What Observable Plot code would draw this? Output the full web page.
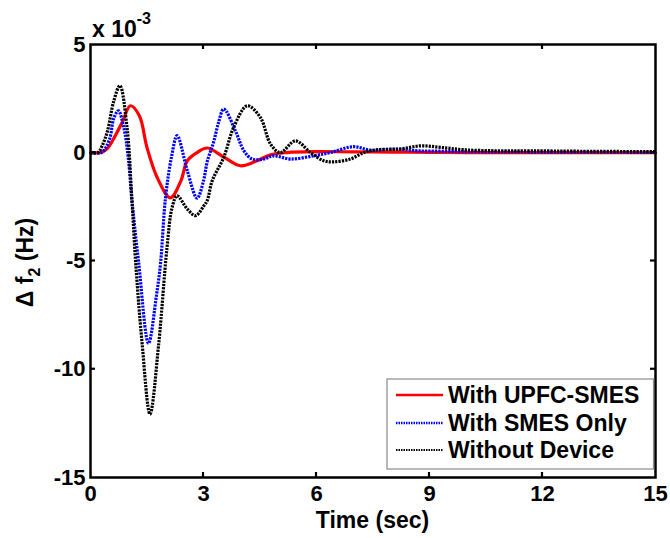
<!DOCTYPE html>
<html>
<head>
<meta charset="utf-8">
<script src="https://cdn.jsdelivr.net/npm/d3@7"></script>
<script src="https://cdn.jsdelivr.net/npm/@observablehq/plot@0.6"></script>
<style>
  html, body { margin: 0; padding: 0; background: white; }
</style>
</head>
<body>
<div id="chart"></div>
<script>
// ---- data (values in units of 1e-3 Hz) ----
const seriesNames = ["With UPFC-SMES", "With SMES Only", "Without Device"];

const redT = [0, 0.3, 0.45, 0.6, 0.84, 1.06, 1.3, 1.5, 1.77, 2.12, 2.4, 2.57, 2.83, 3.1, 3.54, 3.98, 4.42, 4.78, 5.22, 6, 7, 8, 9, 10, 12, 15];
const redV = [0, 0.02, 0.2, 0.6, 1.4, 2.17, 1.7, 0.24, -1.14, -2.08, -1.3, -0.37, 0.01, 0.22, -0.2, -0.6, -0.37, -0.09, 0.01, 0.05, 0.04, 0.03, 0.02, 0.01, 0.01, 0];

const blueT = [0, 0.3, 0.5, 0.62, 0.74, 0.88, 1.0, 1.1, 1.28, 1.54, 1.75, 1.86, 1.99, 2.15, 2.3, 2.57, 2.83, 3.0, 3.1, 3.27, 3.4, 3.54, 3.85, 4.07, 4.29, 4.6, 4.86, 5.31, 5.93, 6.37, 6.98, 7.43, 8.14, 8.67, 9.3, 10, 11, 12, 15];
const blueV = [0, 0.02, 0.6, 1.6, 1.94, 1.2, -0.2, -2.2, -5.1, -8.8, -6.6, -5.1, -2.1, -0.2, 0.79, -0.83, -2.1, -1.3, -0.4, 0.5, 1.4, 2.02, 1.0, 0.1, -0.29, -0.29, -0.14, -0.29, -0.14, 0.01, 0.28, 0.12, 0.17, 0.09, 0.07, 0.05, 0.04, 0.03, 0.02];

const blackT = [0, 0.2, 0.31, 0.45, 0.62, 0.78, 0.97, 1.1, 1.2, 1.37, 1.58, 1.81, 2.03, 2.17, 2.3, 2.57, 2.79, 3.01, 3.1, 3.23, 3.54, 3.8, 4.16, 4.51, 4.78, 5.04, 5.44, 5.84, 6.19, 6.45, 6.9, 7.26, 7.61, 8.2, 8.76, 9.29, 9.9, 10.8, 11.7, 13, 15];
const blackV = [0, 0.02, 0.32, 1.0, 2.4, 3.1, 1.17, -2.2, -5.1, -8.8, -12.07, -8.84, -4.4, -2.5, -1.99, -2.6, -2.9, -2.45, -2.2, -1.3, -0.2, 1.17, 2.17, 1.63, 0.4, 0.01, 0.55, 0.01, -0.37, -0.42, -0.29, 0.01, 0.14, 0.17, 0.32, 0.25, 0.14, 0.09, 0.09, 0.07, 0.05];

const xTicks = [0, 3, 6, 9, 12, 15];
const yTicks = [-15, -10, -5, 0, 5];
const xInnerTicks = [3, 6, 9, 12];
const yInnerTicks = [-10, -5, 0];

const colors = ["#ff0000", "#0000ff", "#000000"];

const toRows = (T, V, s) => T.map((t, i) => ({t, v: V[i], s}));
const red = toRows(redT, redV, seriesNames[0]);
const blue = toRows(blueT, blueV, seriesNames[1]);
const black = toRows(blackT, blackV, seriesNames[2]);

const font = "'Liberation Sans', Arial, sans-serif";

const chart = Plot.plot({
  width: 670,
  height: 538,
  marginLeft: 90,
  marginRight: 15,
  marginTop: 44,
  marginBottom: 61,
  style: {fontFamily: font, fontWeight: "bold", fontSize: "22px", background: "white", color: "black"},
  x: {domain: [0, 15]},
  y: {domain: [-15, 5]},
  marks: [
    Plot.line(red, {x: "t", y: "v", stroke: colors[0], strokeWidth: 3.2, curve: "catmull-rom"}),
    Plot.line(blue, {x: "t", y: "v", stroke: colors[1], strokeWidth: 3.2, strokeDasharray: "2.2,1.1", strokeLinecap: "butt", curve: "catmull-rom"}),
    Plot.line(black, {x: "t", y: "v", stroke: colors[2], strokeWidth: 3.2, strokeDasharray: "2.2,1.1", strokeLinecap: "butt", curve: "catmull-rom"}),
    Plot.axisX({ticks: xTicks, tickSize: 0, tickPadding: 8, label: null, fontSize: 22, fontWeight: "bold", tickFormat: d => String(d)}),
    Plot.axisY({ticks: yTicks, tickSize: 0, tickPadding: 5, label: null, fontSize: 22, fontWeight: "bold", tickFormat: d => String(d)}),
    Plot.frame({stroke: "black", strokeWidth: 2.5})
  ]
});

document.getElementById("chart").appendChild(chart);

const svg = d3.select(chart);
const sx = chart.scale("x");
const sy = chart.scale("y");
const x0 = sx.apply(0), x1 = sx.apply(15);
const yTop = sy.apply(5), yBot = sy.apply(-15);
const tl = 5;

const g = svg.append("g").attr("stroke", "black").attr("stroke-width", 2.2);
for (const t of xInnerTicks) {
  const px = sx.apply(t);
  g.append("line").attr("x1", px).attr("x2", px).attr("y1", yBot).attr("y2", yBot - tl);
  g.append("line").attr("x1", px).attr("x2", px).attr("y1", yTop).attr("y2", yTop + tl);
}
for (const v of yInnerTicks) {
  const py = sy.apply(v);
  g.append("line").attr("x1", x0).attr("x2", x0 + tl).attr("y1", py).attr("y2", py);
  g.append("line").attr("x1", x1).attr("x2", x1 - tl).attr("y1", py).attr("y2", py);
}

// axis labels
svg.append("text")
  .attr("x", (x0 + x1) / 2).attr("y", 528)
  .attr("text-anchor", "middle")
  .style("font-family", font).style("font-size", "23px").style("font-weight", "bold")
  .text("Time (sec)");

const yl = svg.append("text")
  .attr("transform", `translate(33,${(yTop + yBot) / 2 + 2}) rotate(-90)`)
  .attr("text-anchor", "middle")
  .style("font-family", font).style("font-size", "23px").style("font-weight", "bold");
yl.append("tspan").text("\u0394 f");
yl.append("tspan").attr("dy", 7).style("font-size", "16px").text("2");
yl.append("tspan").attr("dy", -7).text(" (Hz)");

// exponent
const ex = svg.append("text")
  .attr("x", 92).attr("y", 37)
  .attr("text-anchor", "start")
  .style("font-family", font).style("font-size", "23px").style("font-weight", "bold");
ex.append("tspan").text("x 10");
ex.append("tspan").attr("dy", -13).style("font-size", "16px").text("-3");

// legend
const lg = svg.append("g");
lg.append("rect").attr("x", 387).attr("y", 379).attr("width", x1 - 387 - 1.5).attr("height", 90)
  .attr("fill", "white").attr("stroke", "#8c8c8c").attr("stroke-width", 1.2);
const rowsY = [395, 423, 450];
const dash = [null, "1.5,1", "1.5,1"];
const sw = [2.6, 2.4, 2.0];
seriesNames.forEach((name, i) => {
  lg.append("line").attr("x1", 396).attr("x2", 443).attr("y1", rowsY[i]).attr("y2", rowsY[i])
    .attr("stroke", colors[i]).attr("stroke-width", sw[i]).attr("stroke-dasharray", dash[i]);
  lg.append("text").attr("x", 448).attr("y", rowsY[i]).attr("dy", "0.36em")
    .attr("text-anchor", "start")
    .style("font-family", font).style("font-size", "23px").style("font-weight", "bold")
    .text(name);
});
</script>
</body>
</html>
